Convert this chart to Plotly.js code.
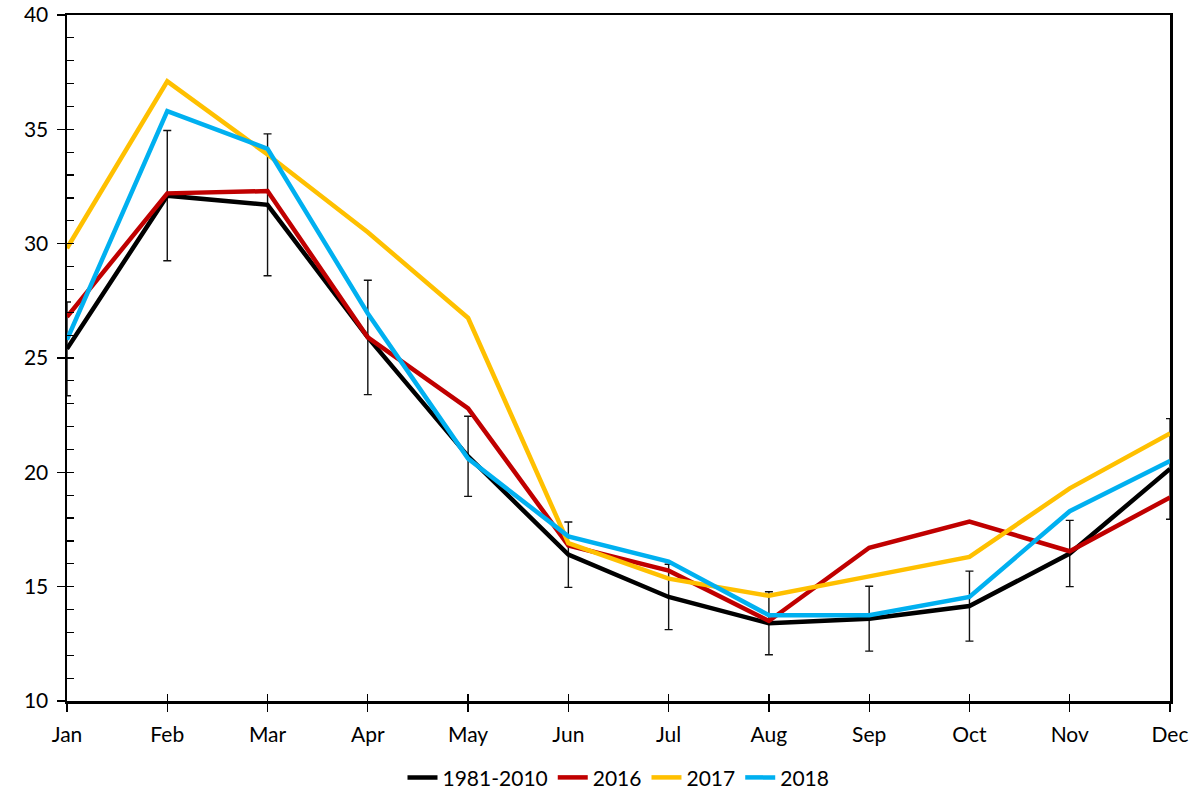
<!DOCTYPE html>
<html>
<head>
<meta charset="utf-8">
<script src="https://cdn.plot.ly/plotly-3.0.1.min.js"></script>
<style>html,body{margin:0;padding:0;background:#fff;}#chart{width:1193px;height:792px;}</style>
</head>
<body>
<div id="chart"></div>
<script>
var months = ["Jan","Feb","Mar","Apr","May","Jun","Jul","Aug","Sep","Oct","Nov","Dec"];
var seriesNames = ["1981-2010","2016","2017","2018"];
var baseline = [25.4, 32.1, 31.7, 25.9, 20.7, 16.4, 14.55, 13.4, 13.6, 14.15, 16.45, 20.15];
var baselineErr = [2.05, 2.85, 3.1, 2.5, 1.75, 1.43, 1.43, 1.38, 1.42, 1.53, 1.45, 2.2];
var y2016 = [26.8, 32.2, 32.3, 25.9, 22.8, 16.8, 15.7, 13.5, 16.7, 17.85, 16.55, 18.9];
var y2017 = [29.8, 37.1, 33.9, 30.5, 26.75, 16.9, 15.35, 14.6, 15.45, 16.3, 19.3, 21.7];
var y2018 = [25.8, 35.8, 34.15, 26.95, 20.6, 17.2, 16.1, 13.75, 13.75, 14.55, 18.3, 20.5];
var yTicks = [10, 15, 20, 25, 30, 35, 40];

var colors = ["#000000", "#C00000", "#FFC000", "#00B0F0"];
var fontFam = "Lato, 'Noto Sans', sans-serif";

var traces = [
  {x: months, y: baseline, name: seriesNames[0], type: "scatter", mode: "lines",
   line: {color: colors[0], width: 4.5},
   error_y: {type: "data", array: baselineErr, visible: true, color: "#111111", thickness: 1.4, width: 4}},
  {x: months, y: y2016, name: seriesNames[1], type: "scatter", mode: "lines", line: {color: colors[1], width: 4.5}},
  {x: months, y: y2017, name: seriesNames[2], type: "scatter", mode: "lines", line: {color: colors[2], width: 4.5}},
  {x: months, y: y2018, name: seriesNames[3], type: "scatter", mode: "lines", line: {color: colors[3], width: 4.5}},
  {x: months, y: baseline, xaxis: "x2", yaxis: "y2", type: "scatter", mode: "lines",
   line: {color: "rgba(0,0,0,0)", width: 0}, showlegend: false, hoverinfo: "skip"}
];

var layout = {
  width: 1193, height: 792,
  margin: {l: 67, r: 23, t: 15, b: 91, autoexpand: false},
  paper_bgcolor: "#ffffff", plot_bgcolor: "#ffffff",
  font: {family: fontFam, size: 21, color: "#000"},
  showlegend: true,
  legend: {orientation: "h", x: 0.5, xanchor: "center", yref: "container", y: 0.018, yanchor: "middle",
           font: {family: fontFam, size: 21, color: "#000"}, itemwidth: 30, tracegroupgap: 0},
  xaxis: {type: "category", range: [0, 11], showgrid: false, zeroline: false,
          showline: true, linecolor: "#000", linewidth: 2.5, mirror: true,
          ticks: "outside", ticklen: 8, tickwidth: 1.2, tickcolor: "#000", ticklabelstandoff: 5,
          tickfont: {family: fontFam, size: 21}},
  yaxis: {range: [10, 40], tickvals: yTicks, showgrid: false, zeroline: false,
          showline: true, linecolor: "#000", linewidth: 2.5, mirror: true,
          ticks: "outside", ticklen: 8, tickwidth: 1.2, tickcolor: "#000", ticklabelstandoff: 4,
          tickfont: {family: fontFam, size: 21}},
  xaxis2: {type: "category", overlaying: "x", anchor: "y2", side: "bottom", range: [0, 11],
           showgrid: false, zeroline: false, showline: false, showticklabels: false,
           ticks: "inside", ticklen: 7, tickwidth: 1.2, tickcolor: "#000"},
  yaxis2: {overlaying: "y", anchor: "x2", side: "left", range: [10, 40], dtick: 1, tick0: 10,
           showgrid: false, zeroline: false, showline: false, showticklabels: false,
           ticks: "inside", ticklen: 7, tickwidth: 1.2, tickcolor: "#000"}
};

Plotly.newPlot("chart", traces, layout, {staticPlot: true, displayModeBar: false});
</script>
</body>
</html>
